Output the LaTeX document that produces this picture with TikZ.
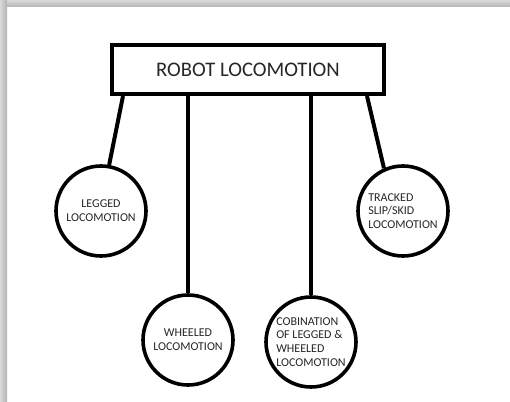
\documentclass[tikz,border=0pt]{standalone}
\usepackage{fontspec}
\setmainfont{Carlito}
\usetikzlibrary{positioning,calc}

\begin{document}
\begin{tikzpicture}[
    x=1pt, y=-1pt,
    headbox/.style={rectangle, draw, line width=4pt, minimum width=272pt, minimum height=49pt, font=\fontsize{20.7}{24}\selectfont, text=black!85},
    bubble/.style={circle, draw, line width=3.6pt, minimum size=90pt, inner sep=0pt, font=\fontsize{12}{13.8}\selectfont, text=black!85},
    link/.style={line width=4pt}
]

% Page and shadow
\useasboundingbox (0,0) rectangle (510,401);
\fill[white] (0,0) rectangle (510,401);
\shade[top color=black!15, bottom color=black!30] (0,0) rectangle (510,7);
\shade[left color=black!15, right color=black!30] (0,0) rectangle (7,401);

% Title
\node[headbox] (robot) at (248,69.5) {ROBOT LOCOMOTION};

% Kinds of locomotion
\node[bubble, align=center] (legged) at (101,211) {LEGGED\\LOCOMOTION};
\node[bubble, align=left] (tracked) at (403,211) {TRACKED\\SLIP/SKID\\LOCOMOTION};
\node[bubble, align=center] (wheeled) at (188,340) {WHEELED\\LOCOMOTION};
\node[bubble, align=left] (combo) at (311,342) {COBINATION\\OF LEGGED \&\\WHEELED\\LOCOMOTION};

% Links
\draw[link] ([xshift=-125pt]robot.south) -- (legged.80);
\draw[link] (robot.south -| wheeled.north) -- (wheeled.north);
\draw[link] (robot.south -| combo.north) -- (combo.north);
\draw[link] ([xshift=119pt]robot.south) -- (tracked.114);

\end{tikzpicture}
\end{document}
